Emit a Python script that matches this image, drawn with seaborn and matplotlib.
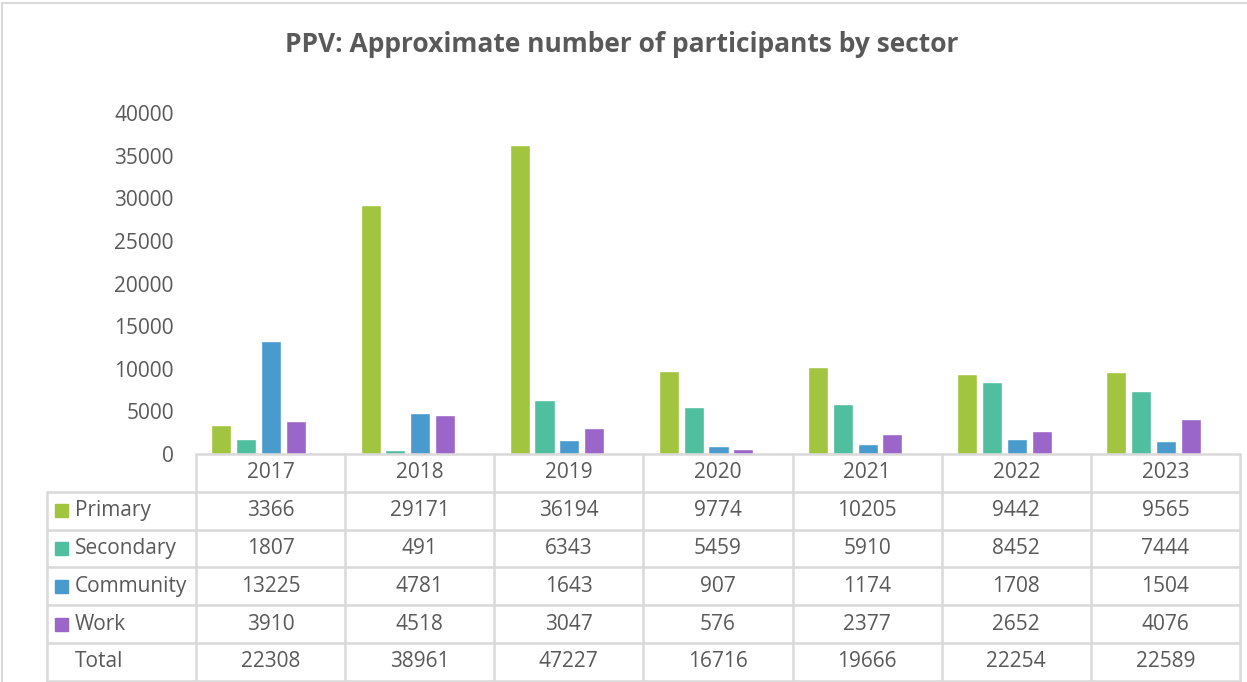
import numpy as np
import pandas as pd
import matplotlib
matplotlib.use("Agg")
import matplotlib.pyplot as plt
import matplotlib.transforms as mtransforms
from matplotlib.lines import Line2D
from matplotlib.patches import Rectangle
import seaborn as sns

years = ["2017", "2018", "2019", "2020", "2021", "2022", "2023"]
sectors = ["Primary", "Secondary", "Community", "Work"]
primary = [3366, 29171, 36194, 9774, 10205, 9442, 9565]
secondary = [1807, 491, 6343, 5459, 5910, 8452, 7444]
community = [13225, 4781, 1643, 907, 1174, 1708, 1504]
work = [3910, 4518, 3047, 576, 2377, 2652, 4076]
totals = [22308, 38961, 47227, 16716, 19666, 22254, 22589]

palette = {"Primary": "#A2C540", "Secondary": "#4FBF9F",
           "Community": "#4A9BCD", "Work": "#9B66C9"}
txt = "#595959"
grid = "#D9D9D9"

series = [primary, secondary, community, work]
df = pd.DataFrame([(y, s, v) for s, vals in zip(sectors, series)
                   for y, v in zip(years, vals)],
                  columns=["year", "sector", "value"])

sns.set_style("white")
plt.rcParams["font.family"] = ["Open Sans", "DejaVu Sans"]

W, H = 1247, 682
fig = plt.figure(figsize=(W / 100, H / 100), dpi=100)
ax = fig.add_axes([196 / W, 1 - 454 / H, 1044 / W, (454 - 113) / H])

sns.barplot(data=df, x="year", y="value", hue="sector", order=years,
            hue_order=sectors, palette=palette, width=0.665, gap=0.19,
            saturation=1, legend=False, ax=ax)

# bar groups sit slightly left of the table column centres
d = 0.08
ax.set_xlim(-0.5 + d, 6.5 + d)
ax.set_ylim(0, 40000)
ax.set_yticks(range(0, 40001, 5000))
ax.tick_params(axis="y", length=0, pad=16, labelsize=15, labelcolor=txt)
ax.set_xticks([])
ax.set_xlabel("")
ax.set_ylabel("")
for side in ["top", "right", "left", "bottom"]:
    ax.spines[side].set_visible(False)

# data table below the axis
tr = mtransforms.blended_transform_factory(ax.transData, ax.transAxes)
row_h = 37.8 / 341
n_rows = 6  # header + 4 sectors + total
lw = 1.8
c = np.arange(len(years)) + d  # column centres

def line(x, y, **kw):
    ax.add_line(Line2D(x, y, transform=tr, color=grid, lw=lw,
                       clip_on=False, **kw))

left, right = c[0] - 0.5, c[-1] + 0.5
line([left, right], [0, 0])
for r in range(1, n_rows + 1):
    line([left - 1, right], [-r * row_h, -r * row_h])
line([left - 1, left - 1], [-row_h, -n_rows * row_h])
for x in list(c - 0.5) + [right]:
    line([x, x], [0, -n_rows * row_h])

for x, y in zip(c, years):
    ax.text(x, -0.5 * row_h, y, transform=tr, ha="center", va="center",
            fontsize=15, color=txt)

rows = [("Primary", primary), ("Secondary", secondary),
        ("Community", community), ("Work", work), ("Total", totals)]
sq_w, sq_h = 13 / 149, 13 / 341
for r, (name, vals) in enumerate(rows, start=1):
    yc = -(r + 0.5) * row_h
    for x, v in zip(c, vals):
        ax.text(x, yc, str(v), transform=tr, ha="center", va="center",
                fontsize=15, color=txt)
    if name in palette:
        ax.add_patch(Rectangle((left - 1 + 8 / 149, yc - sq_h / 2), sq_w, sq_h,
                               transform=tr, color=palette[name], clip_on=False))
    ax.text(left - 1 + 28 / 149, yc, name, transform=tr, ha="left", va="center",
            fontsize=15, color=txt)

fig.text(622 / W, 1 - 45 / H, "PPV: Approximate number of participants by sector",
         ha="center", va="center", fontsize=19, fontweight="bold", color=txt)

# chart area border
fig.add_artist(Line2D([2 / W, 2 / W], [0, 1 - 3 / H], color=grid, lw=1.5))
fig.add_artist(Line2D([2 / W, 1], [1 - 3 / H, 1 - 3 / H], color=grid, lw=1.5))

fig.savefig("out.png", dpi=100)
